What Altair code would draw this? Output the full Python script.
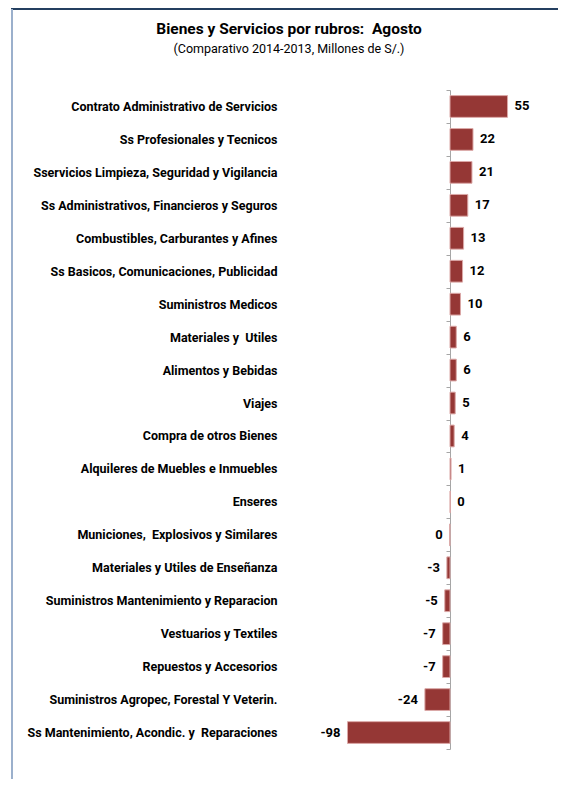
import altair as alt
import pandas as pd

NB = "\u00a0"
categories = [
    "Contrato Administrativo de Servicios",
    "Ss Profesionales y Tecnicos",
    "Sservicios Limpieza, Seguridad y Vigilancia",
    "Ss Administrativos, Financieros y Seguros",
    "Combustibles, Carburantes y Afines",
    "Ss Basicos, Comunicaciones, Publicidad",
    "Suministros Medicos",
    "Materiales y" + NB + " Utiles",
    "Alimentos y Bebidas",
    "Viajes",
    "Compra de otros Bienes",
    "Alquileres de Muebles e Inmuebles",
    "Enseres",
    "Municiones," + NB + " Explosivos y Similares",
    "Materiales y Utiles de Enseñanza",
    "Suministros Mantenimiento y Reparacion",
    "Vestuarios y Textiles",
    "Repuestos y Accesorios",
    "Suministros Agropec, Forestal Y Veterin.",
    "Ss Mantenimiento, Acondic. y" + NB + " Reparaciones",
]
values = [55, 22, 21, 17, 13, 12, 10, 6, 6, 5, 4, 1, 0.3, -0.3, -3, -5, -7, -7, -24, -98]
labels = ["55", "22", "21", "17", "13", "12", "10", "6", "6", "5", "4", "1", "0", "0",
          "-3", "-5", "-7", "-7", "-24", "-98"]

df = pd.DataFrame({"cat": categories, "val": values, "lab": labels})

FONT = "Roboto, sans-serif"
W, H = 100, 659
PAD_L, PAD_T = 442, 82

y = alt.Y("cat:N", sort=categories,
          scale=alt.Scale(paddingInner=0, paddingOuter=0),
          axis=alt.Axis(title=None, labelFont=FONT, labelFontSize=12.5, labelFontWeight="bold",
                        labelColor="black", labelPadding=169, labelLimit=400,
                        tickSize=4, tickColor="#a6a6a6", domainColor="#a6a6a6",
                        tickBand="extent", grid=False))
x = alt.X("val:Q", scale=alt.Scale(domain=[0, 95.6], nice=False, zero=False), axis=None)

bars = alt.Chart(df).mark_bar(height={"band": 0.66}, color="#953735",
                              stroke="#dba8a7", strokeWidth=1).encode(x=x, y=y)

pos = alt.Chart(df).transform_filter("datum.val >= 0").mark_text(
    align="left", dx=7, font=FONT, fontSize=13, fontWeight="bold", color="black"
).encode(x=x, y=y, text="lab:N")
neg = alt.Chart(df).transform_filter("datum.val < 0").mark_text(
    align="right", dx=-7, font=FONT, fontSize=13, fontWeight="bold", color="black"
).encode(x=x, y=y, text="lab:N")

top_line = alt.Chart(df).mark_rule(color="#243f60", strokeWidth=2).encode(
    x=alt.value(3 - PAD_L), x2=alt.value(W + 8), y=alt.value(1 - PAD_T))
left_line = alt.Chart(df).mark_rule(color="#9bb0cc", strokeWidth=2).encode(
    x=alt.value(4 - PAD_L), y=alt.value(1 - PAD_T), y2=alt.value(771 - PAD_T))

chart = alt.layer(top_line, left_line, bars, pos, neg).properties(
    width=W, height=H,
    padding={"left": PAD_L, "top": PAD_T, "right": 8, "bottom": 30},
    autosize=alt.AutoSizeParams(type="none"),
    title=alt.TitleParams(
        text="Bienes y Servicios por rubros:" + NB + " Agosto",
        subtitle="(Comparativo 2014-2013, Millones de S/.)",
        font=FONT, fontSize=15.5, fontWeight="bold", color="black",
        subtitleFont=FONT, subtitleFontSize=12.5, subtitleColor="black",
        subtitlePadding=5, anchor="middle", dx=-211, offset=-47,
    ),
).configure_view(stroke=None)

chart.save("out.html", embed_options={"renderer": "svg", "actions": False})
